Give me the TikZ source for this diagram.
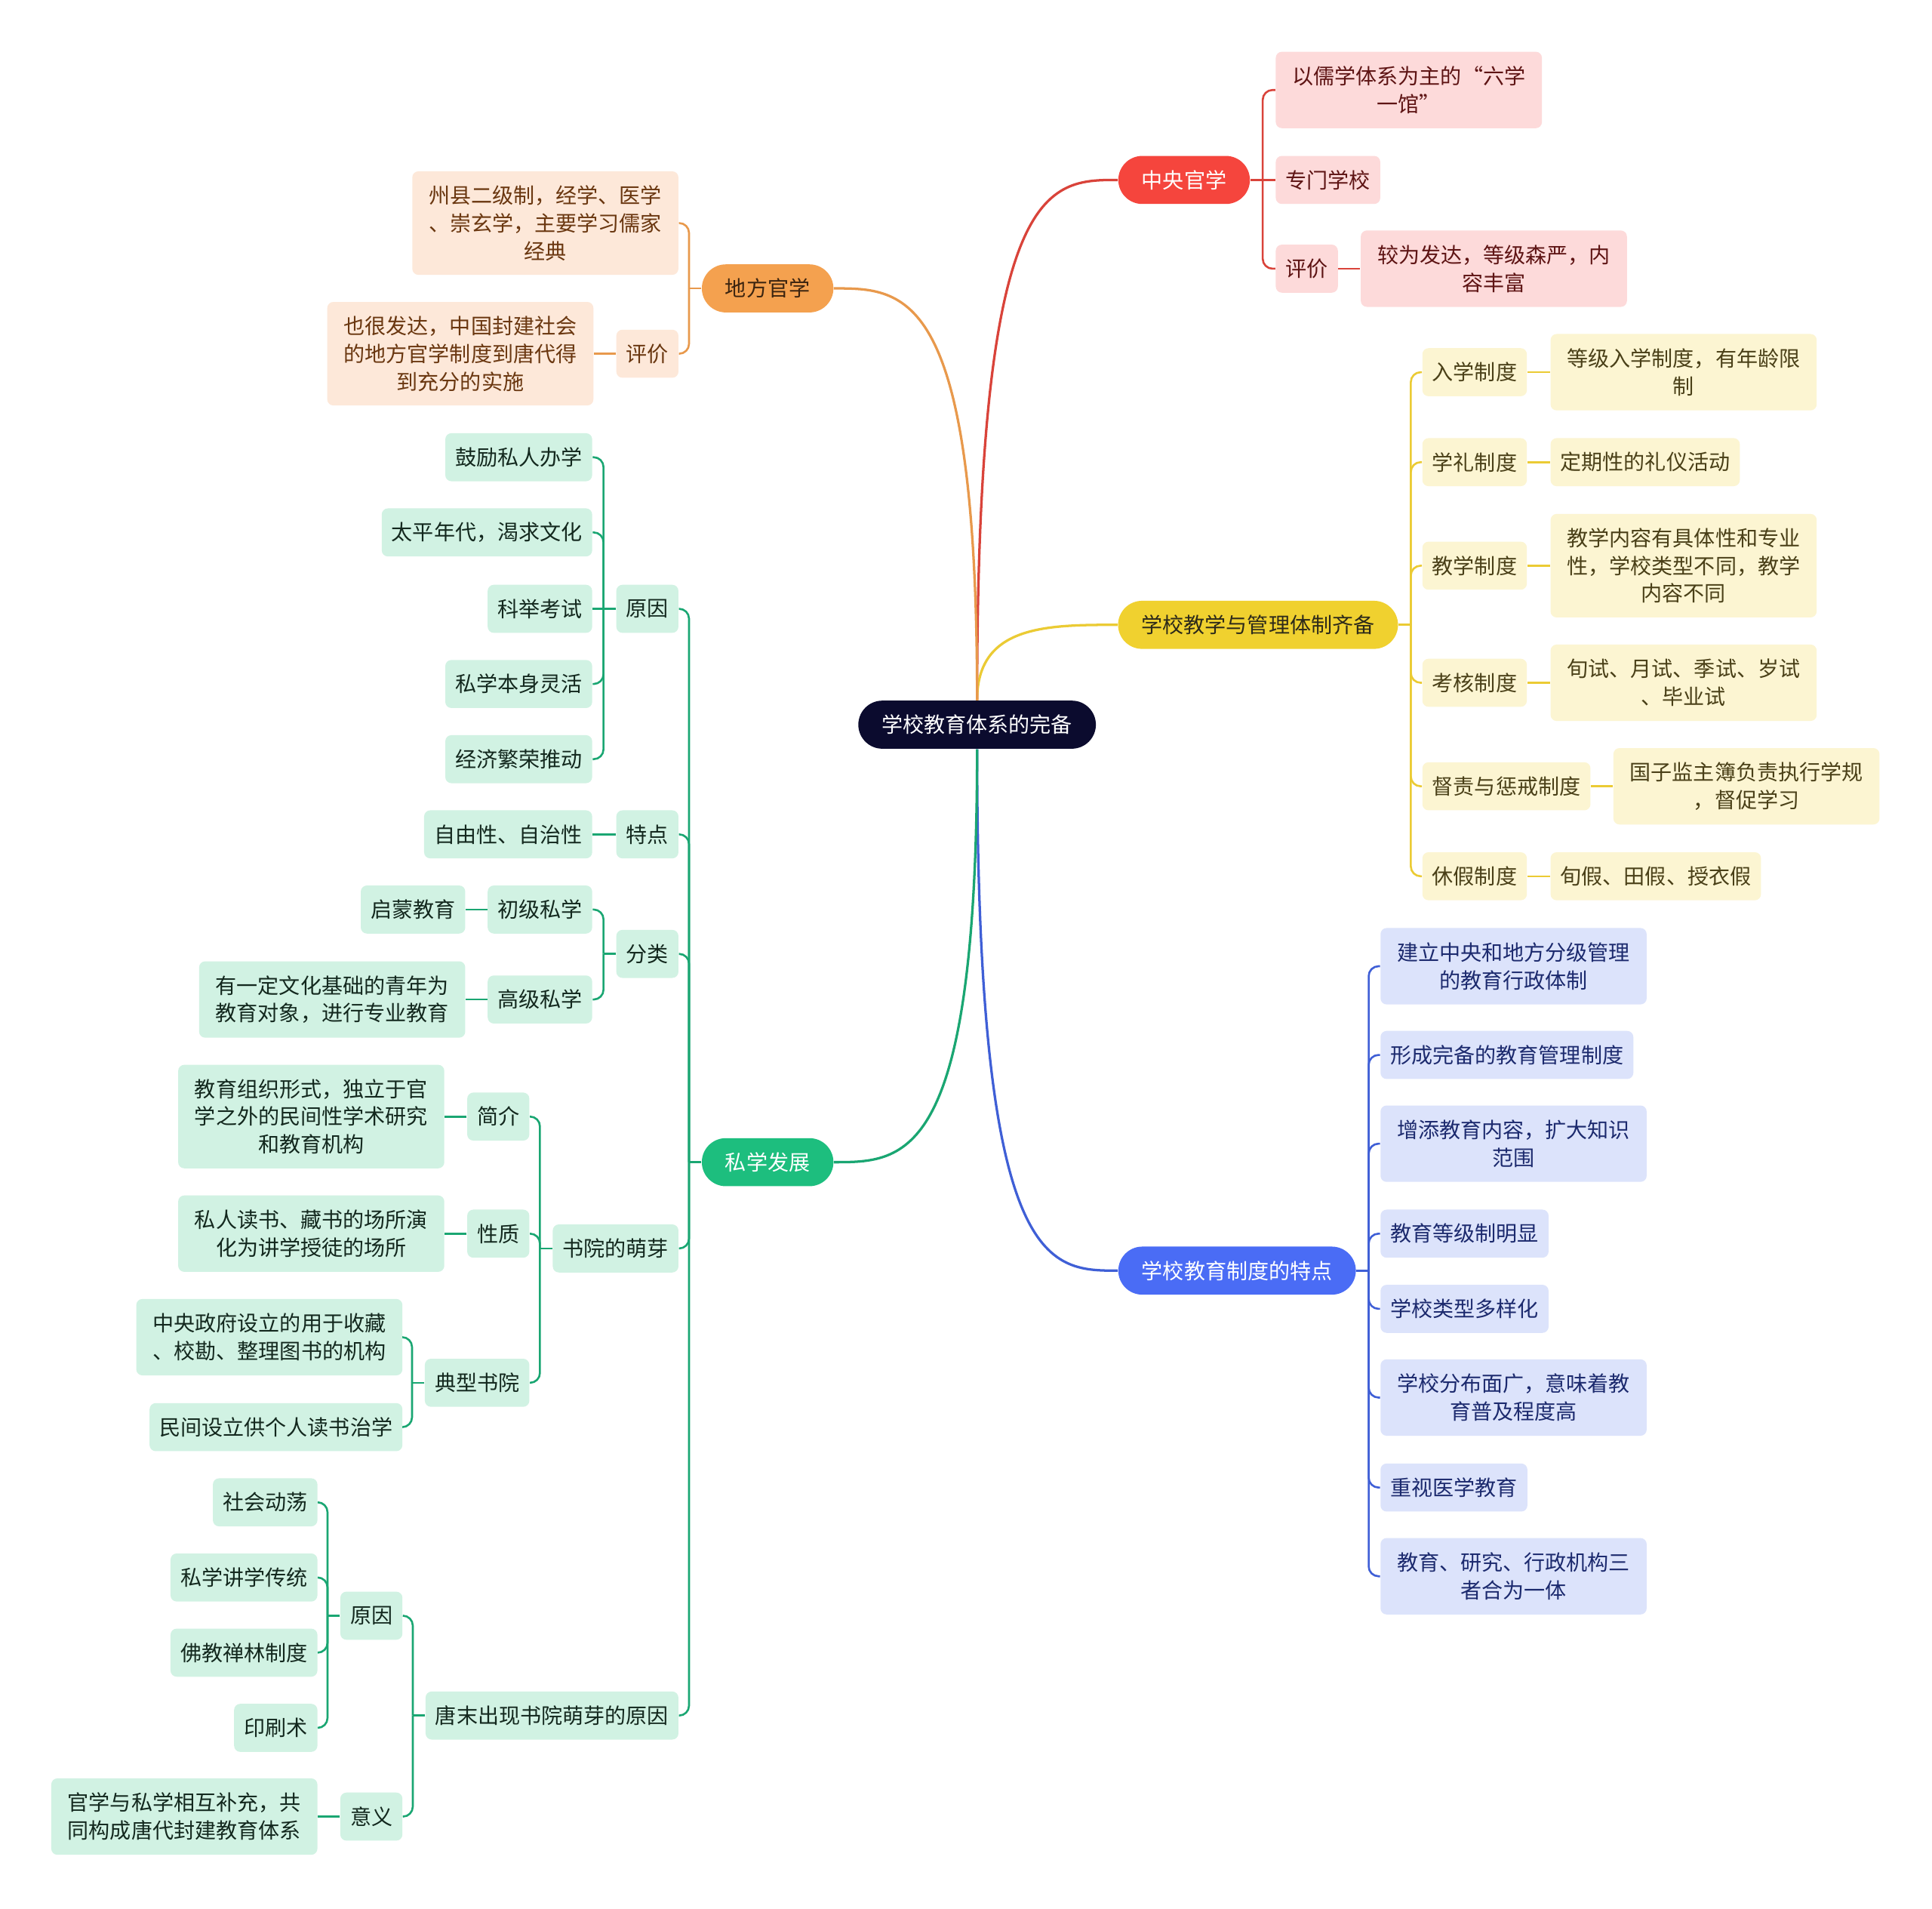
\documentclass[tikz,border=0pt]{standalone}
\usepackage{fontspec}
\setmainfont{Noto Sans CJK SC}
\usetikzlibrary{backgrounds}
\definecolor{rootC}{HTML}{0B0B2E}
\definecolor{redC}{HTML}{F5453D}
\definecolor{redL}{HTML}{D9433A}
\definecolor{redF}{HTML}{FDDADA}
\definecolor{redT}{HTML}{5E1414}
\definecolor{yelC}{HTML}{F0D12F}
\definecolor{yelL}{HTML}{EBCB34}
\definecolor{yelF}{HTML}{FCF5D2}
\definecolor{yelT}{HTML}{4A4018}
\definecolor{yelP}{HTML}{2D2A1A}
\definecolor{bluC}{HTML}{4A6CF5}
\definecolor{bluL}{HTML}{3F5FD6}
\definecolor{bluF}{HTML}{DCE3FB}
\definecolor{bluT}{HTML}{1C2A6E}
\definecolor{oraC}{HTML}{F4A14F}
\definecolor{oraL}{HTML}{E8994C}
\definecolor{oraF}{HTML}{FDE8D9}
\definecolor{oraT}{HTML}{6A3710}
\definecolor{oraP}{HTML}{3B2410}
\definecolor{grnC}{HTML}{1DBE7E}
\definecolor{grnL}{HTML}{1AA672}
\definecolor{grnF}{HTML}{D1F2E3}
\definecolor{grnT}{HTML}{13281E}
\tikzset{
  base/.style={font=\fontsize{8.6}{11.25}\selectfont, align=center, inner xsep=4pt, inner ysep=0pt, rounded corners=2.5pt, minimum height=19.5pt},
  pill/.style={base, rounded corners=9.75pt, inner xsep=9.5pt},
  two/.style={minimum height=31pt},
  three/.style={minimum height=42pt},
  wide/.style={minimum width=108pt},
  rn/.style={base, fill=redF, text=redT},
  yn/.style={base, fill=yelF, text=yelT},
  bn/.style={base, fill=bluF, text=bluT},
  on/.style={base, fill=oraF, text=oraT},
  gn/.style={base, fill=grnF, text=grnT},
  cR/.style={draw=redL, line width=0.8pt},
  cY/.style={draw=yelL, line width=0.8pt},
  cB/.style={draw=bluL, line width=0.8pt},
  cO/.style={draw=oraL, line width=0.8pt},
  cG/.style={draw=grnL, line width=0.8pt},
}
\newcommand\RB[3]{%
  \draw[#1] (#2.east) -- ++(10,0) coordinate (#2-br);
  \foreach \ch in {#3}{\draw[#1,rounded corners=4pt] (#2-br) |- (\ch.west);}
}
\newcommand\LB[3]{%
  \draw[#1] (#2.west) -- ++(-10,0) coordinate (#2-br);
  \foreach \ch in {#3}{\draw[#1,rounded corners=4pt] (#2-br) |- (\ch.east);}
}
\begin{document}
\begin{tikzpicture}[x=0.5pt,y=-0.5pt]
\useasboundingbox (0,0) rectangle (1568,1549);
% main nodes
\node[pill,fill=rootC,text=white] (root) at (793,588) {学校教育体系的完备};
\node[pill,fill=redC,text=white] (R1) at (961,146) {中央官学};
\node[pill,fill=yelC,text=yelP] (R2) at (1021,507) {学校教学与管理体制齐备};
\node[pill,fill=bluC,text=white] (R3) at (1004,1031) {学校教育制度的特点};
\node[pill,fill=oraC,text=oraP] (L1) at (623,234) {地方官学};
\node[pill,fill=grnC,text=white] (L2) at (623,943) {私学发展};
% red
\node[rn,two,wide,anchor=west] (r1a) at (1035,73) {以儒学体系为主的“六学\\一馆”};
\node[rn,anchor=west] (r1b) at (1035,146) {专门学校};
\node[rn,anchor=west] (r1c) at (1035,218) {评价};
\node[rn,two,wide,anchor=west] (r1d) at (1104,218) {较为发达，等级森严，内\\容丰富};
% yellow
\node[yn,anchor=west] (y1) at (1154,302) {入学制度};
\node[yn,two,wide,anchor=west] (y1a) at (1258,302) {等级入学制度，有年龄限\\制};
\node[yn,anchor=west] (y2) at (1154,375) {学礼制度};
\node[yn,anchor=west] (y2a) at (1258,375) {定期性的礼仪活动};
\node[yn,anchor=west] (y3) at (1154,459) {教学制度};
\node[yn,three,wide,anchor=west] (y3a) at (1258,459) {教学内容有具体性和专业\\性，学校类型不同，教学\\内容不同};
\node[yn,anchor=west] (y4) at (1154,554) {考核制度};
\node[yn,two,wide,anchor=west] (y4a) at (1258,554) {旬试、月试、季试、岁试\\、毕业试};
\node[yn,anchor=west] (y5) at (1154,638) {督责与惩戒制度};
\node[yn,two,wide,anchor=west] (y5a) at (1309,638) {国子监主簿负责执行学规\\，督促学习};
\node[yn,anchor=west] (y6) at (1154,711) {休假制度};
\node[yn,anchor=west] (y6a) at (1258,711) {旬假、田假、授衣假};
% blue
\node[bn,two,wide,anchor=west] (b1) at (1120,784) {建立中央和地方分级管理\\的教育行政体制};
\node[bn,anchor=west] (b2) at (1120,856) {形成完备的教育管理制度};
\node[bn,two,wide,anchor=west] (b3) at (1120,928) {增添教育内容，扩大知识\\范围};
\node[bn,anchor=west] (b4) at (1120,1001) {教育等级制明显};
\node[bn,anchor=west] (b5) at (1120,1062) {学校类型多样化};
\node[bn,two,wide,anchor=west] (b6) at (1120,1134) {学校分布面广，意味着教\\育普及程度高};
\node[bn,anchor=west] (b7) at (1120,1207) {重视医学教育};
\node[bn,two,wide,anchor=west] (b8) at (1120,1279) {教育、研究、行政机构三\\者合为一体};
% orange
\node[on,three,wide,anchor=east] (o1) at (551,181) {州县二级制，经学、医学\\、崇玄学，主要学习儒家\\经典};
\node[on,anchor=east] (o2) at (551,287) {评价};
\node[on,three,wide,anchor=east] (o2a) at (482,287) {也很发达，中国封建社会\\的地方官学制度到唐代得\\到充分的实施};
% green
\node[gn,anchor=east] (g1) at (551,494) {原因};
\node[gn,anchor=east] (g1a) at (481,371) {鼓励私人办学};
\node[gn,anchor=east] (g1b) at (481,432) {太平年代，渴求文化};
\node[gn,anchor=east] (g1c) at (481,494) {科举考试};
\node[gn,anchor=east] (g1d) at (481,555) {私学本身灵活};
\node[gn,anchor=east] (g1e) at (481,616) {经济繁荣推动};
\node[gn,anchor=east] (g2) at (551,677) {特点};
\node[gn,anchor=east] (g2a) at (481,677) {自由性、自治性};
\node[gn,anchor=east] (g3) at (551,774) {分类};
\node[gn,anchor=east] (g3a) at (481,738) {初级私学};
\node[gn,anchor=east] (g3a1) at (378,738) {启蒙教育};
\node[gn,anchor=east] (g3b) at (481,811) {高级私学};
\node[gn,two,wide,anchor=east] (g3b1) at (378,811) {有一定文化基础的青年为\\教育对象，进行专业教育};
\node[gn,anchor=east] (g4) at (551,1013) {书院的萌芽};
\node[gn,anchor=east] (g4a) at (430,906) {简介};
\node[gn,three,wide,anchor=east] (g4a1) at (361,906) {教育组织形式，独立于官\\学之外的民间性学术研究\\和教育机构};
\node[gn,anchor=east] (g4b) at (430,1001) {性质};
\node[gn,two,wide,anchor=east] (g4b1) at (361,1001) {私人读书、藏书的场所演\\化为讲学授徒的场所};
\node[gn,anchor=east] (g4c) at (430,1122) {典型书院};
\node[gn,two,wide,anchor=east] (g4c1) at (327,1085) {中央政府设立的用于收藏\\、校勘、整理图书的机构};
\node[gn,anchor=east] (g4c2) at (327,1158) {民间设立供个人读书治学};
\node[gn,anchor=east] (g5) at (551,1392) {唐末出现书院萌芽的原因};
\node[gn,anchor=east] (g5a) at (327,1311) {原因};
\node[gn,anchor=east] (g5a1) at (258,1219) {社会动荡};
\node[gn,anchor=east] (g5a2) at (258,1280) {私学讲学传统};
\node[gn,anchor=east] (g5a3) at (258,1341) {佛教禅林制度};
\node[gn,anchor=east] (g5a4) at (258,1402) {印刷术};
\node[gn,anchor=east] (g5b) at (327,1474) {意义};
\node[gn,two,wide,anchor=east] (g5b1) at (258,1474) {官学与私学相互补充，共\\同构成唐代封建教育体系};
% connectors
\begin{scope}[on background layer]
\fill[white] (0,0) rectangle (1568,1549);
\draw[draw=redL,line width=1pt] (root.north) .. controls (793,146) and (850,146) .. (R1.west);
\draw[draw=yelL,line width=1pt] (root.north) .. controls (793,507) and (850,507) .. (R2.west);
\draw[draw=bluL,line width=1pt] (root.south) .. controls (793,1031) and (850,1031) .. (R3.west);
\draw[draw=oraL,line width=1pt] (root.north) .. controls (793,234) and (735,234) .. (L1.east);
\draw[draw=grnL,line width=1pt] (root.south) .. controls (793,943) and (735,943) .. (L2.east);
% red
\RB{cR}{R1}{r1a,r1c}
\draw[cR] (R1.east) -- (r1b.west);
\draw[cR] (r1c.east) -- (r1d.west);
% yellow
\RB{cY}{R2}{y1,y2,y3,y4,y5,y6}
\draw[cY] (y1.east) -- (y1a.west);
\draw[cY] (y2.east) -- (y2a.west);
\draw[cY] (y3.east) -- (y3a.west);
\draw[cY] (y4.east) -- (y4a.west);
\draw[cY] (y5.east) -- (y5a.west);
\draw[cY] (y6.east) -- (y6a.west);
% blue
\RB{cB}{R3}{b1,b2,b3,b4,b5,b6,b7,b8}
% orange
\LB{cO}{L1}{o1,o2}
\draw[cO] (o2.west) -- (o2a.east);
% green
\LB{cG}{L2}{g1,g2,g3,g4,g5}
\LB{cG}{g1}{g1a,g1b,g1d,g1e}
\draw[cG] (g1.west) -- (g1c.east);
\draw[cG] (g2.west) -- (g2a.east);
\LB{cG}{g3}{g3a,g3b}
\draw[cG] (g3a.west) -- (g3a1.east);
\draw[cG] (g3b.west) -- (g3b1.east);
\LB{cG}{g4}{g4a,g4b,g4c}
\draw[cG] (g4a.west) -- (g4a1.east);
\draw[cG] (g4b.west) -- (g4b1.east);
\LB{cG}{g4c}{g4c1,g4c2}
\LB{cG}{g5}{g5a,g5b}
\LB{cG}{g5a}{g5a1,g5a2,g5a3,g5a4}
\draw[cG] (g5b.west) -- (g5b1.east);
\end{scope}
\end{tikzpicture}
\end{document}
